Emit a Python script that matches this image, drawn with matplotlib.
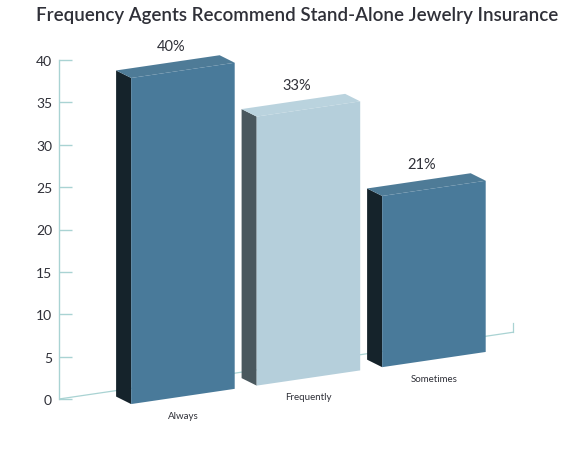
import numpy as np
import matplotlib
matplotlib.use('Agg')
import matplotlib.pyplot as plt
from matplotlib.patches import Polygon

# --- Data ---
categories = ['Always', 'Frequently', 'Sometimes']
values = [40, 33, 21]
value_labels = ['40%', '33%', '21%']
front_colors = ['#497a9a', '#b5cfdb', '#497a9a']
top_colors = ['#4e7b97', '#bad3de', '#4e7b97']
side_colors = ['#15232b', '#4a585e', '#15232b']
yticks = [0, 5, 10, 15, 20, 25, 30, 35, 40]

TEXT = '#2f3038'
AXIS = '#a9d3d3'

plt.rcParams['font.family'] = ['Lato', 'DejaVu Sans']

# --- Fake 3D geometry (data units: x = category slots, y = value) ---
SLOPE = 2.177      # floor rises to the right
BOTTOM_OFF = -1.85  # bar front bottom below floor line
FRONT = 0.962      # front faces slightly smaller than the back axis scale
DX, DY = -0.12, 0.885  # depth offset of the boxes
W = 0.825
X0 = 0.575
FLOOR_END = 3.62

fig = plt.figure(figsize=(5.76, 4.64), dpi=100)
ax = fig.add_axes([59 / 576, 0, 1 - 59 / 576, 1])
ax.set_xlim(0, 517 / 125.5)
ax.set_ylim(-64 / 8.475, 400 / 8.475)
ax.patch.set_alpha(0)

for s in ['top', 'right', 'bottom']:
    ax.spines[s].set_visible(False)
ax.spines['left'].set_bounds(0, 40)
ax.spines['left'].set_color(AXIS)
ax.spines['left'].set_linewidth(1.0)
ax.set_yticks(yticks)
ax.tick_params(axis='y', direction='in', length=9.5, width=1.0, color=AXIS,
               labelsize=10, labelcolor=TEXT, pad=5)
ax.set_xticks([])

# floor line with a small end tick
ax.plot([0, FLOOR_END], [0, SLOPE * FLOOR_END], color=AXIS, lw=0.9, zorder=1)
ax.plot([FLOOR_END, FLOOR_END], [SLOPE * FLOOR_END, SLOPE * FLOOR_END + 1.06],
        color=AXIS, lw=0.9, zorder=1)


def base(x):
    return SLOPE * x + BOTTOM_OFF


for i, (cat, v) in enumerate(zip(categories, values)):
    xl = i + X0
    xr = xl + W
    bl, br = base(xl), base(xr)
    tl, tr = bl + FRONT * v, br + FRONT * v
    # side face
    ax.add_patch(Polygon([(xl + DX, bl + DY), (xl, bl), (xl, tl), (xl + DX, tl + DY)],
                         closed=True, fc=side_colors[i], ec='none', zorder=3))
    # top face
    ax.add_patch(Polygon([(xl + DX, tl + DY), (xl, tl), (xr, tr), (xr + DX, tr + DY)],
                         closed=True, fc=top_colors[i], ec='none', zorder=3))
    # front face
    ax.add_patch(Polygon([(xl, bl), (xr, br), (xr, tr), (xl, tl)],
                         closed=True, fc=front_colors[i], ec='none', zorder=4))
    xc = (xl + xr) / 2
    ax.text(xc - 0.096, tl + DY + 2.83, value_labels[i], ha='center', va='center',
            fontsize=10.5, color=TEXT, zorder=5)
    ax.text(xc, base(xc) - 2.24, cat, ha='center', va='center',
            fontsize=7, color=TEXT, zorder=5)

fig.text(36 / 576, 1 - 16 / 464, 'Frequency Agents Recommend Stand-Alone Jewelry Insurance',
         ha='left', va='center', fontsize=13.5, fontweight='semibold', color=TEXT)

plt.savefig('out.png', dpi=100)
